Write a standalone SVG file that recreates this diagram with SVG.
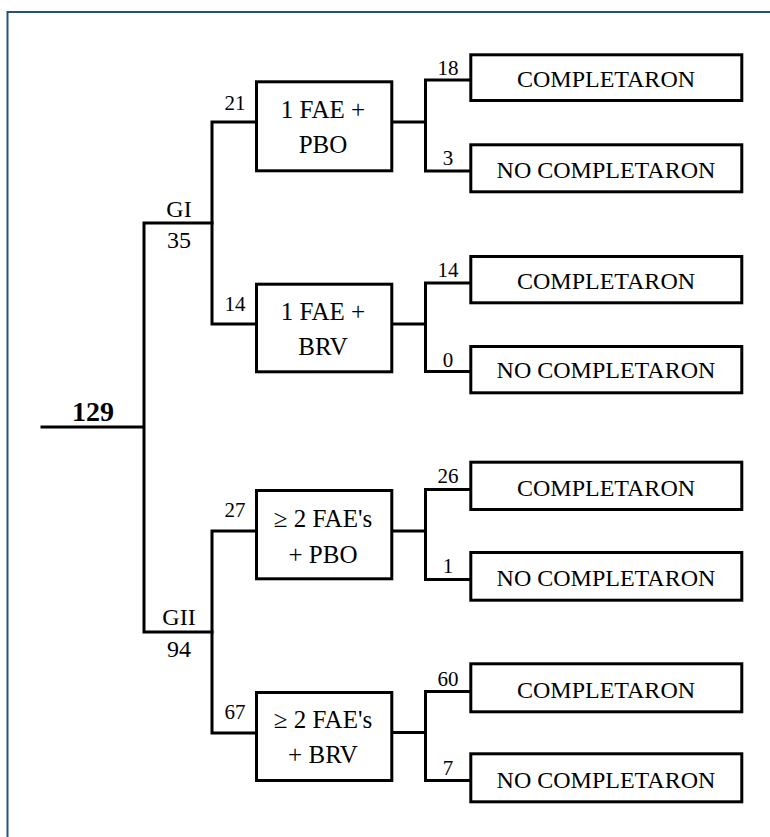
<svg xmlns="http://www.w3.org/2000/svg" width="770" height="837" viewBox="0 0 770 837">
<style>
  .frame { fill: none; stroke: #24527F; stroke-width: 2; }
  .ln { fill: none; stroke: #000; stroke-width: 3; stroke-linecap: square; }
  .box { fill: #fff; stroke: #000; stroke-width: 3; }
  text { font-family: "Liberation Serif", "Times New Roman", serif; fill: #000; text-anchor: middle; }
  .bt { font-size: 25px; }
  .rt { font-size: 24px; }
  .n { font-size: 21px; }
  .g { font-size: 24px; }
  .root { font-size: 28px; font-weight: bold; }
</style>
<rect width="770" height="837" fill="#fff"/>
<path class="frame" d="M7.5 837 V12 H770"/>

<g id="connectors">
  <path class="ln" d="M42 427 H144 M144 223 V632 M144 223 H212 M144 632 H212"/>
  <path class="ln" d="M212 122 V324 M212 122 H256 M212 324 H256"/>
  <path class="ln" d="M212 531 V733 M212 531 H256 M212 733 H256"/>
  <path class="ln" d="M392 122 H425.5 M425.5 80 V171 M425.5 80 H470 M425.5 171 H470"/>
  <path class="ln" d="M392 324 H425.5 M425.5 283 V371.5 M425.5 283 H470 M425.5 371.5 H470"/>
  <path class="ln" d="M392 531 H425.5 M425.5 489.5 V579.5 M425.5 489.5 H470 M425.5 579.5 H470"/>
  <path class="ln" d="M392 732.5 H425.5 M425.5 691.5 V780.5 M425.5 691.5 H470 M425.5 780.5 H470"/>
</g>

<g id="labels">
  <text class="root" x="93" y="421">129</text>
  <text class="g" x="179" y="217">GI</text>
  <text class="g" x="179" y="248">35</text>
  <text class="g" x="179" y="625">GII</text>
  <text class="g" x="179" y="657">94</text>
  <text class="n" x="235" y="110">21</text>
  <text class="n" x="235" y="311">14</text>
  <text class="n" x="235" y="517">27</text>
  <text class="n" x="235" y="719">67</text>
  <text class="n" x="448" y="75">18</text>
  <text class="n" x="448" y="165">3</text>
  <text class="n" x="448" y="277">14</text>
  <text class="n" x="448" y="367">0</text>
  <text class="n" x="448" y="483">26</text>
  <text class="n" x="448" y="573">1</text>
  <text class="n" x="448" y="686">60</text>
  <text class="n" x="448" y="775">7</text>
</g>

<g id="n-fae-pbo">
  <rect class="box" x="256.5" y="81.8" width="135.3" height="89"/>
  <text class="bt" x="323" y="118">1 FAE +</text>
  <text class="bt" x="323" y="153">PBO</text>
</g>
<g id="n-fae-brv">
  <rect class="box" x="256.5" y="284.2" width="135.3" height="87.6"/>
  <text class="bt" x="323" y="320">1 FAE +</text>
  <text class="bt" x="323" y="355">BRV</text>
</g>
<g id="n-2fae-pbo">
  <rect class="box" x="256.5" y="490.5" width="135.3" height="88.3"/>
  <text class="bt" x="323" y="527">≥ 2 FAE's</text>
  <text class="bt" x="323" y="563">+ PBO</text>
</g>
<g id="n-2fae-brv">
  <rect class="box" x="256.5" y="692.5" width="135.3" height="88"/>
  <text class="bt" x="323" y="728">≥ 2 FAE's</text>
  <text class="bt" x="323" y="763">+ BRV</text>
</g>

<g id="r1a"><rect class="box" x="470.8" y="54.8" width="271" height="45.7"/><text class="rt" x="606" y="87">COMPLETARON</text></g>
<g id="r1b"><rect class="box" x="470.8" y="144.8" width="271" height="47"/><text class="rt" x="606" y="178">NO COMPLETARON</text></g>
<g id="r2a"><rect class="box" x="470.8" y="256.5" width="271" height="46.3"/><text class="rt" x="606" y="289">COMPLETARON</text></g>
<g id="r2b"><rect class="box" x="470.8" y="346.5" width="271" height="46.3"/><text class="rt" x="606" y="378">NO COMPLETARON</text></g>
<g id="r3a"><rect class="box" x="470.8" y="462.2" width="271" height="47.3"/><text class="rt" x="606" y="496">COMPLETARON</text></g>
<g id="r3b"><rect class="box" x="470.8" y="552.5" width="271" height="47.7"/><text class="rt" x="606" y="586">NO COMPLETARON</text></g>
<g id="r4a"><rect class="box" x="470.8" y="663.8" width="271" height="48"/><text class="rt" x="606" y="698">COMPLETARON</text></g>
<g id="r4b"><rect class="box" x="470.8" y="753.8" width="271" height="48"/><text class="rt" x="606" y="788">NO COMPLETARON</text></g>
</svg>
